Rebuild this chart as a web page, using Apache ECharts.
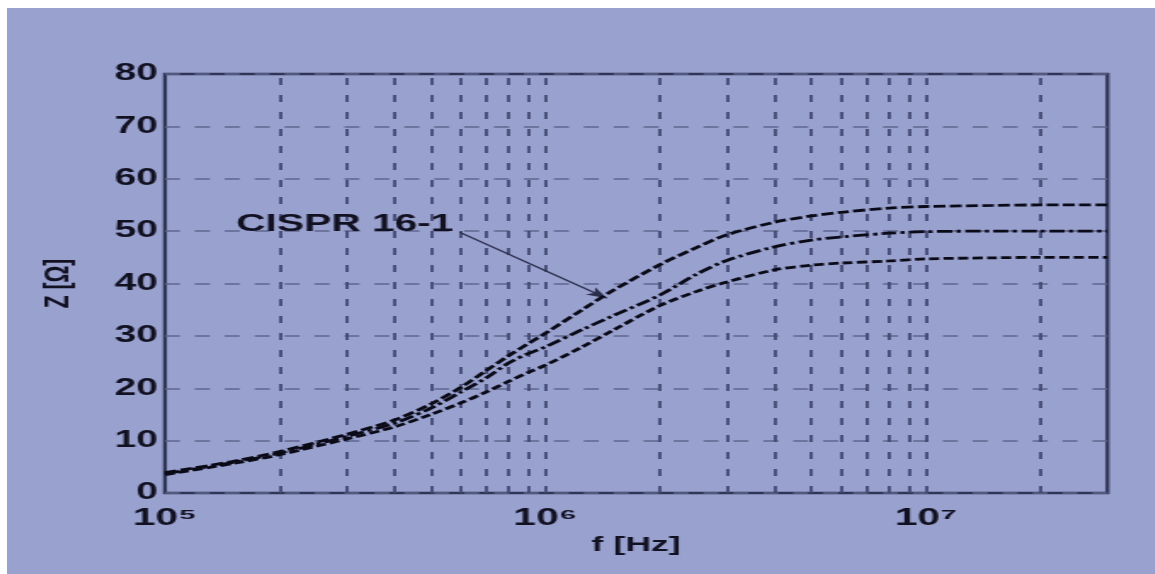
<!DOCTYPE html>
<html>
<head>
<meta charset="utf-8">
<script src="https://cdn.jsdelivr.net/npm/echarts@6/dist/echarts.min.js"></script>
<style>
  html, body { margin: 0; padding: 0; background: #ffffff; width: 1155px; height: 574px; overflow: hidden; }
  #wrap { position: absolute; left: 7px; top: 8px; width: 1148px; height: 566px; background: #99a1cf; overflow: hidden; }
  #chart { position: absolute; left: 0; top: 0; width: 675.3px; height: 566px; transform: scaleX(1.7); transform-origin: 0 0; }
</style>
</head>
<body>
<div id="wrap"><div id="chart"></div></div>
<script>
// ---- data ----
const freqHz  = [1e5, 1.5e5, 2e5, 3e5, 4e5, 5e5, 6e5, 7e5, 8e5, 9e5, 1e6, 1.25e6, 1.5e6, 2e6, 2.5e6, 3e6, 4e6, 5e6, 6e6, 8e6, 1e7, 1.5e7, 2e7, 3e7];
const zUpper  = [3.9, 6.0, 7.9, 11.2, 13.9, 17.0, 20.2, 23.4, 26.2, 28.5, 30.5, 35.0, 38.6, 43.6, 46.9, 49.3, 51.7, 52.9, 53.6, 54.4, 54.7, 54.9, 55.0, 55.0];
const zMiddle = [3.7, 5.8, 7.6, 10.8, 13.3, 16.2, 19.3, 22.0, 24.8, 26.6, 27.9, 31.2, 33.8, 37.8, 41.8, 44.4, 47.0, 48.3, 48.9, 49.6, 49.9, 50.0, 50.0, 50.0];
const zLower  = [3.5, 5.6, 7.3, 10.3, 12.6, 15.0, 17.2, 19.3, 21.3, 23.0, 24.4, 27.9, 31.0, 35.8, 38.5, 40.3, 42.6, 43.5, 43.9, 44.3, 44.7, 44.9, 45.0, 45.0];
const xMinHz = 1e5, xMaxHz = 3e7;
const yMin = 0, yMax = 80, yStep = 10;
const xTickLabels = { 5: '10⁵', 6: '10⁶', 7: '10⁷' };
const verticalGridHz = [2e5, 3e5, 4e5, 5e5, 6e5, 7e5, 8e5, 9e5, 1e6, 2e6, 3e6, 4e6, 5e6, 6e6, 7e6, 8e6, 9e6, 1e7, 2e7];
const annotationText = 'CISPR 16-1';
const annotationLabelAt = [5.8e5, 51.3];
const annotationArrowFrom = [5.95e5, 49.8];
const annotationArrowTo = [1.45e6, 37.2];
const xAxisName = 'f [Hz]';
const yAxisName = 'Z [Ω]';

// ---- chart ----
const FONT = "'Liberation Sans', Arial, 'DejaVu Sans', sans-serif";
const INK = '#111122';
const chart = echarts.init(document.getElementById('chart'), null, { renderer: 'canvas' });

function pairs(ys) { return freqHz.map((f, i) => [f, ys[i]]); }

const curveStyle = (dash) => ({ color: '#0b0b18', width: 2.8, type: dash });

const option = {
  animation: false,
  backgroundColor: 'transparent',
  grid: { left: 92.9, right: 27.7, top: 66, bottom: 81, show: true, borderColor: '#2f3556', borderWidth: 2.3, backgroundColor: 'transparent' },
  xAxis: {
    type: 'log', logBase: 10, min: xMinHz, max: xMaxHz,
    name: xAxisName, nameLocation: 'middle', nameGap: 42,
    nameTextStyle: { fontFamily: FONT, fontSize: 21, fontWeight: 'bold', color: INK },
    axisLine: { show: false },
    axisTick: { show: false },
    splitLine: { show: false },
    axisLabel: {
      margin: 13,
      fontFamily: FONT, fontSize: 24, fontWeight: 'bold', color: INK,
      formatter: function (v) {
        const e = Math.log10(v);
        if (Math.abs(e - Math.round(e)) > 1e-6) return '';
        return xTickLabels[Math.round(e)] || '';
      }
    }
  },
  yAxis: {
    type: 'value', min: yMin, max: yMax, interval: yStep,
    name: yAxisName, nameLocation: 'middle', nameGap: 52, nameRotate: 90,
    nameTextStyle: { fontFamily: FONT, fontSize: 21, fontWeight: 'bold', color: INK },
    axisLine: { show: false },
    axisTick: { show: false },
    axisLabel: { margin: 4, fontFamily: FONT, fontSize: 23, fontWeight: 'bold', color: INK },
    splitLine: { show: true, lineStyle: { color: '#5f658d', width: 1.6, type: [8.8, 8.8] } }
  },
  series: [
    {
      name: 'upper', type: 'line', data: pairs(zUpper), smooth: 0.3, showSymbol: false,
      lineStyle: curveStyle([7, 2.5]), z: 5,
      markLine: {
        silent: true, symbol: ['none', 'none'], animation: false,
        label: { show: false },
        lineStyle: { color: '#434970', width: 1.8, type: [7, 10] },
        data: verticalGridHz.map(f => ({ xAxis: f })).concat([
          [
            { coord: annotationArrowFrom, symbol: 'none', lineStyle: { color: '#2a2e4c', width: 1.3, type: 'solid' } },
            { coord: annotationArrowTo, symbol: 'arrow', symbolSize: [7, 12] }
          ]
        ])
      },
      markPoint: {
        silent: true, symbol: 'circle', symbolSize: 0.1, itemStyle: { color: 'transparent' },
        label: { show: true, position: 'left', distance: 1, formatter: annotationText, fontFamily: FONT, fontSize: 24, fontWeight: 'bold', color: INK },
        data: [{ coord: annotationLabelAt }]
      }
    },
    { name: 'middle', type: 'line', data: pairs(zMiddle), smooth: 0.3, showSymbol: false, lineStyle: curveStyle([9, 2.5, 2.5, 2.5]), z: 5 },
    { name: 'lower', type: 'line', data: pairs(zLower), smooth: 0.3, showSymbol: false, lineStyle: curveStyle([6, 2.5]), z: 5 }
  ]
};
chart.setOption(option);
</script>
</body>
</html>
